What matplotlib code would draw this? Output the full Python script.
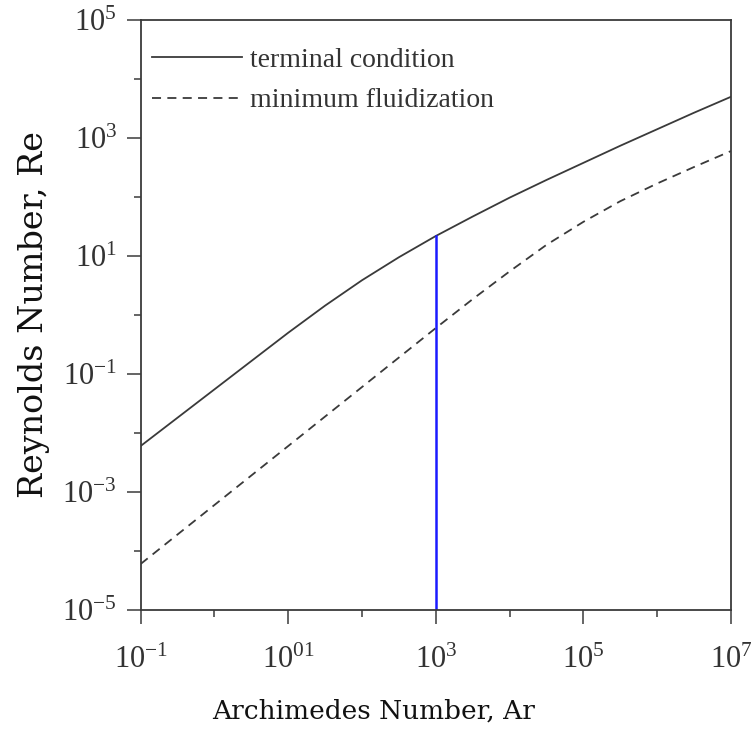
import numpy as np
import matplotlib
matplotlib.use("Agg")
import matplotlib.pyplot as plt
from matplotlib.ticker import FixedLocator, FixedFormatter

plt.rcParams['font.family'] = ['Liberation Serif', 'DejaVu Serif']
plt.rcParams['mathtext.fontset'] = 'custom'
plt.rcParams['mathtext.rm'] = 'Liberation Serif'
plt.rcParams['mathtext.it'] = 'Liberation Serif:italic'

# values (log10 of Ar and Re)
log_ar = [-1, -0.5, 0, 0.5, 1, 1.5, 2, 2.5, 3, 3.5, 4, 4.5, 5, 5.5, 6, 6.5, 7]
log_re_terminal = [-2.22, -1.74, -1.26, -0.78, -0.30, 0.16, 0.59, 0.98, 1.34, 1.67, 1.99, 2.29, 2.58, 2.87, 3.15, 3.43, 3.70]
log_re_minfluid = [-4.22, -3.72, -3.22, -2.72, -2.22, -1.72, -1.22, -0.72, -0.22, 0.27, 0.74, 1.19, 1.58, 1.93, 2.23, 2.51, 2.78]
ar_marker = 1e3

x_tick_pos = [-1, 1, 3, 5, 7]
x_tick_labels = [r'$10^{-1}$', r'$10^{01}$', r'$10^{3}$', r'$10^{5}$', r'$10^{7}$']
y_tick_pos = [-5, -3, -1, 1, 3, 5]
y_tick_labels = [r'$10^{-5}$', r'$10^{-3}$', r'$10^{-1}$', r'$10^{1}$', r'$10^{3}$', r'$10^{5}$']

ar = 10.0 ** np.array(log_ar)
re_t = 10.0 ** np.array(log_re_terminal)
re_mf = 10.0 ** np.array(log_re_minfluid)

fig = plt.figure(figsize=(7.52, 7.31), dpi=100)
ax = fig.add_axes([0.187, 0.1655, 0.785, 0.807])

line_col = '#3a3a3a'
ax.plot(ar, re_t, color=line_col, lw=1.3, label='terminal condition')
ax.plot(ar, re_mf, color=line_col, lw=1.3, linestyle=(0, (5, 3.5)), label='minimum fluidization')
ax.plot([ar_marker, ar_marker], [1e-5, 10 ** np.interp(3, log_ar, log_re_terminal)],
        color='#1a1aff', lw=1.8)

ax.set_xscale('log')
ax.set_yscale('log')
ax.set_xlim(1e-1, 1e7)
ax.set_ylim(1e-5, 1e5)

ax.xaxis.set_major_locator(FixedLocator([10.0 ** p for p in x_tick_pos]))
ax.xaxis.set_major_formatter(FixedFormatter(x_tick_labels))
ax.xaxis.set_minor_locator(FixedLocator([10.0 ** p for p in range(0, 7, 2)]))
ax.yaxis.set_major_locator(FixedLocator([10.0 ** p for p in y_tick_pos]))
ax.yaxis.set_major_formatter(FixedFormatter(y_tick_labels))
ax.yaxis.set_minor_locator(FixedLocator([10.0 ** p for p in range(-4, 5, 2)]))
ax.xaxis.set_minor_formatter(FixedFormatter([''] * 4))
ax.yaxis.set_minor_formatter(FixedFormatter([''] * 5))

ax.tick_params(which='major', direction='out', length=10, width=1.1, color=line_col,
               labelsize=22, labelcolor='#333333', pad=7)
ax.tick_params(axis='x', which='major', pad=16)
ax.tick_params(which='minor', direction='out', length=5, width=1.1, color=line_col)
for s in ax.spines.values():
    s.set_color(line_col)
    s.set_linewidth(1.3)

leg = ax.legend(loc='upper left', frameon=False, fontsize=20, handlelength=3.25,
                handletextpad=0.3, labelspacing=0.55, borderpad=0.1, borderaxespad=0.3,
                bbox_to_anchor=(0.0, 1.0 - 16 / 590))
for t in leg.get_texts():
    t.set_color('#333333')

fig.text(374 / 752, 1 - 711 / 731, 'Archimedes Number, Ar', ha='center', va='center',
         fontsize=19, family='DejaVu Serif', color='#111111')
fig.text(34 / 752, 1 - 315 / 731, 'Reynolds Number, Re', ha='center', va='center',
         rotation=90, fontsize=24, family='DejaVu Serif', color='#111111')

fig.savefig('out.png', dpi=100)
